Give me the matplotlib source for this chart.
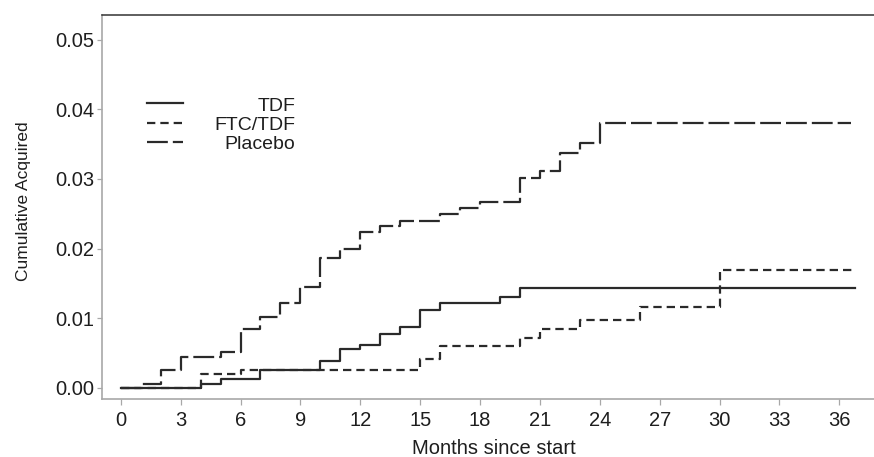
import matplotlib
matplotlib.use("Agg")
import matplotlib.pyplot as plt
from matplotlib.lines import Line2D

plt.rcParams['font.family'] = ['Liberation Sans', 'DejaVu Sans']
plt.rcParams['lines.scale_dashes'] = False

# step times (months) and cumulative values for each arm
tdf_t = [0, 4, 5, 7, 10, 11, 12, 13, 14, 15, 16, 19, 20, 36.8]
tdf_y = [0, 0.0006, 0.00125, 0.00255, 0.0039, 0.0055, 0.0062, 0.0077, 0.0087,
         0.0112, 0.0122, 0.0131, 0.0143, 0.0143]

ftc_t = [0, 4, 6, 15, 16, 20, 21, 23, 26, 30, 36.8]
ftc_y = [0, 0.0019, 0.0025, 0.0041, 0.0060, 0.0071, 0.0084, 0.0098, 0.0116,
         0.0169, 0.0169]

pla_t = [0, 1, 2, 3, 5, 6, 7, 8, 9, 10, 11, 12, 13, 14, 16, 17, 18, 20, 21,
         22, 23, 24, 36.6]
pla_y = [0, 0.0005, 0.0025, 0.0044, 0.0051, 0.0084, 0.0102, 0.0122, 0.0144,
         0.0186, 0.0200, 0.0224, 0.0232, 0.0239, 0.0249, 0.0258, 0.0267,
         0.0301, 0.0312, 0.0337, 0.0352, 0.0381, 0.0381]

labels = ["TDF", "FTC/TDF", "Placebo"]
x_ticks = list(range(0, 37, 3))
y_ticks = [0.00, 0.01, 0.02, 0.03, 0.04, 0.05]

col = '#2a2a2a'
styles = ['-', (0, (6, 3.6)), (0, (15, 3.6))]

fig = plt.figure(figsize=(8.74, 4.57), dpi=100)
ax = fig.add_axes([102 / 874, 58 / 457, 772 / 874, 384 / 457])

for t, y, ls in zip([tdf_t, ftc_t, pla_t], [tdf_y, ftc_y, pla_y], styles):
    ax.plot(t, y, drawstyle='steps-post', color=col, lw=1.6, linestyle=ls)

ax.set_xlim(-0.94, 37.74)
ax.set_ylim(-0.00162, 0.05355)
ax.set_xticks(x_ticks)
ax.set_yticks(y_ticks)
ax.set_yticklabels([f"{v:.2f}" for v in y_ticks])

for s in ['left', 'bottom']:
    ax.spines[s].set_color('#a8a8a8')
    ax.spines[s].set_linewidth(1.2)
ax.spines['right'].set_visible(False)
ax.spines['top'].set_color('#333333')
ax.spines['top'].set_linewidth(1.1)

ax.tick_params(axis='x', length=4.3, width=0.9, color='#a8a8a8', pad=4,
               labelsize=14.5, labelcolor='#1e1e1e')
ax.tick_params(axis='y', length=3.6, width=0.9, color='#a8a8a8', pad=2,
               labelsize=14.5, labelcolor='#1e1e1e')

ax.set_xlabel("Months since start", fontsize=14.5, color='#1e1e1e')
ax.xaxis.set_label_coords(0.507, -0.103)
ax.set_ylabel("Cumulative Acquired", fontsize=12.5, color='#1e1e1e')
ax.yaxis.set_label_coords(-0.092, 0.514)

# legend drawn by hand so the text can be right aligned
leg_y = [0.770, 0.720, 0.670]
for lab, ls, yy in zip(labels, styles, leg_y):
    ax.add_line(Line2D([0.0583, 0.1049], [yy, yy], transform=ax.transAxes,
                       color=col, lw=1.6, linestyle=ls))
    ax.text(0.25, yy - 0.008, lab, transform=ax.transAxes, ha='right',
            va='center', fontsize=14, color='#1e1e1e')

fig.savefig("out.png", dpi=100)
